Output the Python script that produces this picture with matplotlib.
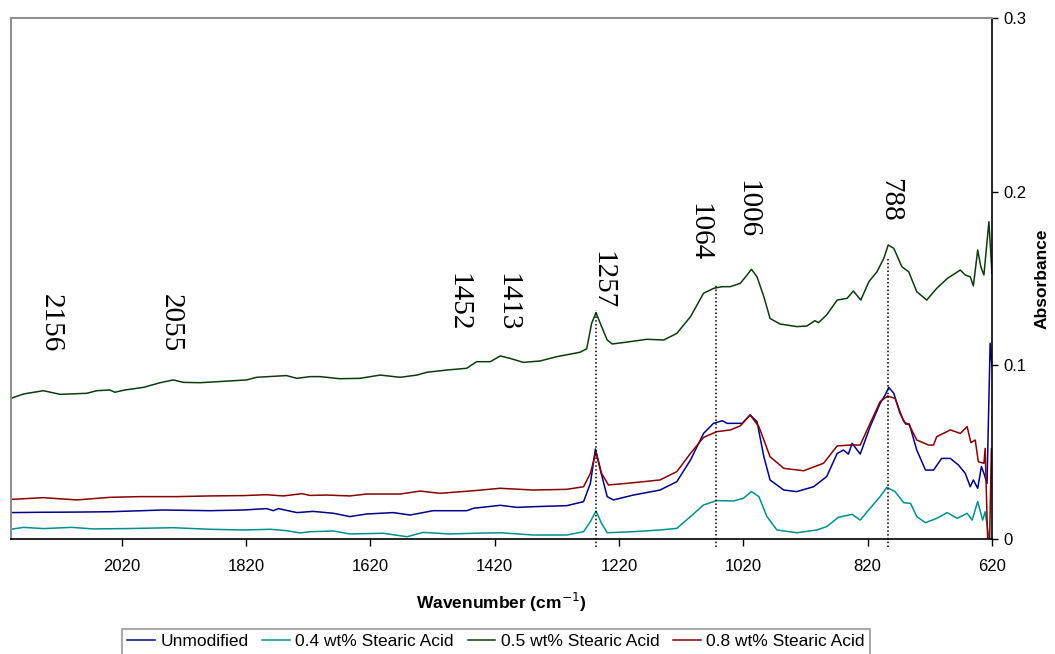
import matplotlib.pyplot as plt
import numpy as np

# FTIR spectra, wavenumber (cm-1) vs absorbance
wn_unmod = [2198, 2146, 2092, 2039, 1953, 1878, 1824, 1787, 1776, 1768, 1738, 1712,
            1679, 1653, 1626, 1583, 1556, 1519, 1465, 1454, 1411, 1384, 1358, 1304,
            1277, 1266, 1258, 1250, 1239, 1229, 1197, 1154, 1127, 1105, 1084,
            1068, 1054, 1046, 1022, 1009, 998, 987, 977, 955, 934, 907, 886, 869,
            859, 851, 845, 832, 816, 800, 792, 786, 778, 768, 759, 753, 741, 727,
            714, 701, 687, 674, 663, 655, 650, 643, 637, 633, 628, 623, 620]
abs_unmod = [0.0152, 0.0154, 0.0155, 0.0157, 0.0167, 0.0163, 0.0167, 0.0175, 0.0163,
             0.0175, 0.0152, 0.0159, 0.0148, 0.0129, 0.0144, 0.0152, 0.0138, 0.0163,
             0.0163, 0.0177, 0.0194, 0.0182, 0.0186, 0.0192, 0.0215, 0.0321, 0.0518,
             0.0397, 0.0244, 0.0225, 0.0253, 0.0282, 0.0330, 0.0455, 0.0608, 0.0666,
             0.0681, 0.0666, 0.0666, 0.0714, 0.0676, 0.0474, 0.0340, 0.0282, 0.0273,
             0.0301, 0.0359, 0.0493, 0.0512, 0.0489, 0.0551, 0.0489, 0.0647, 0.0781,
             0.0829, 0.0873, 0.0839, 0.0724, 0.0662, 0.0662, 0.0512, 0.0397, 0.0397,
             0.0464, 0.0464, 0.0426, 0.0378, 0.0301, 0.0340, 0.0292, 0.0417, 0.0378,
             0.0320, 0.1127, 0.0992]

wn_sa04 = [2198, 2178, 2146, 2100, 2066, 2012, 1937, 1878, 1824, 1781, 1755, 1733,
           1717, 1679, 1653, 1599, 1561, 1535, 1492, 1454, 1411, 1358, 1304, 1277,
           1266, 1257, 1248, 1239, 1197, 1154, 1127, 1105, 1084, 1063,
           1036, 1020, 1007, 995, 982, 966, 934, 902, 886, 867, 845, 832, 816, 800,
           789, 776, 762, 751, 741, 727, 709, 692, 676, 660, 652, 643, 635, 631,
           625, 620]
abs_sa04 = [0.0056, 0.0067, 0.0060, 0.0067, 0.0058, 0.0060, 0.0065, 0.0056, 0.0052,
            0.0056, 0.0048, 0.0035, 0.0042, 0.0046, 0.0029, 0.0033, 0.0013, 0.0038,
            0.0029, 0.0033, 0.0036, 0.0023, 0.0023, 0.0042, 0.0100, 0.0161, 0.0090,
            0.0036, 0.0042, 0.0052, 0.0061, 0.0129, 0.0196, 0.0221, 0.0219, 0.0234,
            0.0273, 0.0244, 0.0129, 0.0052, 0.0036, 0.0052, 0.0071, 0.0125, 0.0142,
            0.0109, 0.0177, 0.0244, 0.0298, 0.0273, 0.0209, 0.0205, 0.0129, 0.0094,
            0.0119, 0.0152, 0.0119, 0.0148, 0.0109, 0.0215, 0.0109, 0.0157, 0.0004,
            0.0000]

wn_sa05 = [2198, 2178, 2146, 2119, 2076, 2060, 2039, 2031, 2015, 1985, 1958, 1937,
           1921, 1894, 1856, 1819, 1803, 1755, 1738, 1717, 1701, 1669, 1637, 1604,
           1572, 1545, 1529, 1497, 1465, 1449, 1427, 1411, 1395, 1374, 1347, 1320,
           1283, 1272, 1264, 1257,
           1248, 1239, 1231, 1207, 1175, 1148, 1127, 1105, 1084, 1068, 1054, 1041,
           1025, 1014, 1007, 998, 987, 977, 961, 934, 918, 905, 899, 886, 869, 853,
           843, 831, 818, 805, 794, 787, 778, 765, 754, 741, 725, 709, 692, 679,
           671, 663, 655, 650, 643, 638, 633, 625, 620]
abs_sa05 = [0.0810, 0.0835, 0.0854, 0.0833, 0.0839, 0.0854, 0.0858, 0.0845, 0.0858,
            0.0873, 0.0900, 0.0916, 0.0902, 0.0900, 0.0908, 0.0916, 0.0931, 0.0941,
            0.0925, 0.0935, 0.0935, 0.0923, 0.0925, 0.0944, 0.0931, 0.0944, 0.0960,
            0.0973, 0.0983, 0.1021, 0.1021, 0.1054, 0.1040, 0.1017, 0.1025, 0.1050,
            0.1075, 0.1095, 0.1242, 0.1303,
            0.1223, 0.1146, 0.1123, 0.1134, 0.1150, 0.1146, 0.1184, 0.1280, 0.1415,
            0.1443, 0.1453, 0.1453, 0.1472, 0.1520, 0.1553, 0.1510, 0.1395, 0.1270,
            0.1238, 0.1223, 0.1226, 0.1257, 0.1246, 0.1290, 0.1376, 0.1386, 0.1428,
            0.1376, 0.1482, 0.1539, 0.1616, 0.1693, 0.1674, 0.1568, 0.1539, 0.1424,
            0.1376, 0.1443, 0.1500, 0.1530, 0.1549, 0.1520, 0.1510, 0.1457, 0.1664,
            0.1568, 0.1520, 0.1827, 0.1530]

wn_sa08 = [2198, 2146, 2092, 2039, 1990, 1932, 1878, 1824, 1787, 1760, 1730, 1717,
           1690, 1653, 1626, 1572, 1540, 1508, 1454, 1411, 1358, 1304, 1277, 1266,
           1257, 1248, 1237, 1197, 1154, 1127, 1105, 1084, 1063,
           1041, 1025, 1009, 995, 977, 955, 923, 891, 869, 848, 832, 816, 800, 788,
           776, 762, 753, 741, 722, 714, 709, 687, 671, 660, 654, 647, 642, 633,
           631, 627, 624, 621]
abs_sa08 = [0.0228, 0.0238, 0.0225, 0.0240, 0.0244, 0.0244, 0.0248, 0.0250, 0.0255,
            0.0248, 0.0261, 0.0251, 0.0253, 0.0248, 0.0259, 0.0259, 0.0276, 0.0263,
            0.0278, 0.0292, 0.0282, 0.0286, 0.0301, 0.0378, 0.0503, 0.0378, 0.0311,
            0.0324, 0.0340, 0.0388, 0.0493, 0.0585, 0.0618, 0.0628, 0.0651, 0.0714,
            0.0647, 0.0474, 0.0407, 0.0393, 0.0436, 0.0536, 0.0541, 0.0541, 0.0666,
            0.0791, 0.0823, 0.0810, 0.0676, 0.0656, 0.0570, 0.0541, 0.0541, 0.0589,
            0.0628, 0.0608, 0.0647, 0.0555, 0.0570, 0.0445, 0.0436, 0.0522, 0.0000,
            -0.0030, 0.0520]

# peak labels: (label, x position, top of text)
peak_labels = ['2156', '2055', '1452', '1413', '1257', '1064', '1006', '788']
peak_x = [2134, 1941, 1478, 1400, 1247, 1091, 1014, 784]
peak_top = [0.141, 0.141, 0.153, 0.153, 0.166, 0.1935, 0.207, 0.208]

# dotted marker lines at assigned bands
mark_wn = [1257, 1064, 788]
mark_top = [0.132, 0.146, 0.161]

plt.rcParams['font.family'] = ['Liberation Sans', 'DejaVu Sans']

fig = plt.figure(figsize=(10.55, 6.54), dpi=100)
ax = fig.add_axes([11/1055, 1-539/654, 981/1055, 521/654])

ax.plot(wn_unmod, abs_unmod, color='#00008B', lw=1.1, label='Unmodified')
ax.plot(wn_sa04, abs_sa04, color='#009090', lw=1.1, label='0.4 wt% Stearic Acid')
ax.plot(wn_sa05, abs_sa05, color='#0a3d0a', lw=1.1, label='0.5 wt% Stearic Acid')
ax.plot(wn_sa08, abs_sa08, color='#8B0000', lw=1.1, label='0.8 wt% Stearic Acid')

for w, t in zip(mark_wn, mark_top):
    ax.plot([w, w], [-0.0045, t], color='black', lw=1.1, ls=(0, (1, 1.5)),
            clip_on=False, zorder=5)

for lab, x, t in zip(peak_labels, peak_x, peak_top):
    ax.text(x, t, lab, rotation=270, ha='center', va='top',
            fontsize=21, family='Liberation Serif')

ax.set_xlim(2198, 620)
ax.set_ylim(0, 0.3)
ax.set_xticks([2020, 1820, 1620, 1420, 1220, 1020, 820, 620])
ax.set_yticks([0, 0.1, 0.2, 0.3])
ax.set_yticklabels(['0', '0.1', '0.2', '0.3'])
ax.yaxis.tick_right()
ax.yaxis.set_label_position('right')
ax.tick_params(axis='x', direction='out', length=5, width=1, labelsize=12, pad=9.5)
ax.tick_params(axis='y', direction='out', length=4, width=1, labelsize=12, pad=4)

for side in ['left', 'top']:
    ax.spines[side].set_color('#909090')
    ax.spines[side].set_linewidth(1.5)
for side in ['right', 'bottom']:
    ax.spines[side].set_color('black')
    ax.spines[side].set_linewidth(1.2)

ax.set_xlabel('Wavenumber (cm$^{-1}$)', fontsize=12.5, fontweight='bold', labelpad=12)
ax.set_ylabel('Absorbance', fontsize=12.5, fontweight='bold', labelpad=6)

leg = ax.legend(loc='upper center', bbox_to_anchor=(496/1055, 1-629/654),
                bbox_transform=fig.transFigure, ncol=4, fontsize=12.5,
                frameon=True, fancybox=False, edgecolor='#808080',
                handlelength=1.6, handletextpad=0.3, columnspacing=0.8,
                borderpad=0.3, borderaxespad=0)
leg.get_frame().set_linewidth(1.2)

fig.savefig('out.png', dpi=100)
